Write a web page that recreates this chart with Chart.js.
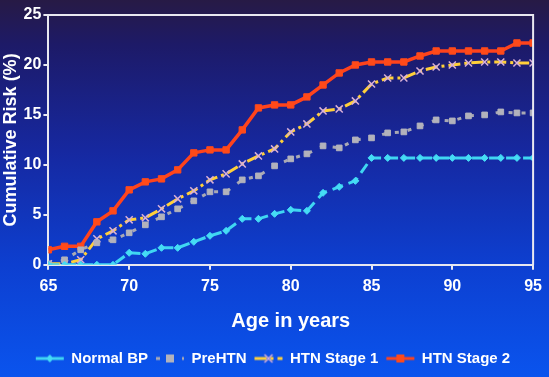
<!DOCTYPE html>
<html lang="en">
<head>
  <meta charset="UTF-8">
  <title>Cumulative Risk by Age</title>
  <script src="https://cdn.jsdelivr.net/npm/chart.js"></script>
  <style>
    html, body {
      margin: 0;
      padding: 0;
    }
    body {
      width: 549px;
      height: 377px;
      overflow: hidden;
      background: linear-gradient(to bottom, #271a45 0%, #1d1a68 12%, #1628a0 40%, #0d3fd0 70%, #0a54ee 100%);
    }
    .wrap {
      position: relative;
      width: 549px;
      height: 377px;
    }
  </style>
</head>
<body>
  <div class="wrap"><canvas id="chart"></canvas></div>

  <script>
    const ages = [65, 66, 67, 68, 69, 70, 71, 72, 73, 74, 75, 76, 77, 78, 79, 80,
                  81, 82, 83, 84, 85, 86, 87, 88, 89, 90, 91, 92, 93, 94, 95];
    const normalBP = [0, 0, 0, 0, 0, 1.2, 1.1, 1.7, 1.7, 2.3, 2.9, 3.4, 4.6, 4.6, 5.1, 5.5,
                      5.4, 7.2, 7.8, 8.4, 10.7, 10.7, 10.7, 10.7, 10.7, 10.7, 10.7, 10.7, 10.7, 10.7, 10.7];
    const preHTN = [0.1, 0.5, 1.5, 2.2, 2.5, 3.2, 4.0, 4.8, 5.6, 6.4, 7.3, 7.3, 8.5, 8.9, 9.9, 10.6,
                    11.1, 11.9, 11.7, 12.5, 12.7, 13.2, 13.3, 13.9, 14.5, 14.4, 14.9, 15.0, 15.3, 15.2, 15.2];
    const htnStage1 = [0.1, 0.1, 0.5, 2.6, 3.4, 4.5, 4.7, 5.6, 6.6, 7.4, 8.5, 9.1, 10.1, 10.9, 11.6, 13.3,
                       14.1, 15.4, 15.6, 16.4, 18.1, 18.7, 18.7, 19.4, 19.8, 20.0, 20.2, 20.3, 20.3, 20.2, 20.2];
    const htnStage2 = [1.5, 1.85, 1.85, 4.3, 5.4, 7.5, 8.3, 8.6, 9.5, 11.2, 11.5, 11.5, 13.5, 15.7, 16.0, 16.0,
                       16.8, 18.0, 19.2, 20.0, 20.3, 20.3, 20.3, 20.9, 21.4, 21.4, 21.4, 21.4, 21.4, 22.2, 22.2];
    const seriesNames = ['Normal BP', 'PreHTN', 'HTN Stage 1', 'HTN Stage 2'];
    const yTicks = [0, 5, 10, 15, 20, 25];

    const FONT = '"Liberation Sans", Arial, sans-serif';

    function toPoints(values) {
      return values.map((v, i) => ({ x: ages[i], y: v }));
    }

    // small legend glyphs: line sample + marker
    function glyph(color, dash, marker, markerColor) {
      const c = document.createElement('canvas');
      c.width = 30;
      c.height = 12;
      const g = c.getContext('2d');
      g.strokeStyle = color;
      g.lineWidth = 3;
      g.setLineDash(dash);
      g.beginPath();
      g.moveTo(1, 6);
      g.lineTo(29, 6);
      g.stroke();
      g.setLineDash([]);
      g.fillStyle = markerColor;
      g.strokeStyle = markerColor;
      if (marker === 'rect') {
        g.fillRect(11, 2, 8, 8);
      } else if (marker === 'rectRot') {
        g.beginPath();
        g.moveTo(15, 2); g.lineTo(19, 6); g.lineTo(15, 10); g.lineTo(11, 6);
        g.closePath();
        g.fill();
      } else if (marker === 'crossRot') {
        g.lineWidth = 1.5;
        g.beginPath();
        g.moveTo(11, 2); g.lineTo(19, 10);
        g.moveTo(19, 2); g.lineTo(11, 10);
        g.stroke();
      }
      return c;
    }

    const styles = [
      { color: '#3fd6f2', dash: [11, 6], marker: 'rectRot', mcolor: '#45dcf5', r: 3.5 },
      { color: '#a9a9b4', dash: [4, 9], marker: 'rect', mcolor: '#b2b2bc', r: 4 },
      { color: '#ffd03a', dash: [12, 4, 3, 4], marker: 'crossRot', mcolor: '#d9b0d8', r: 5 },
      { color: '#ff431c', dash: [], marker: 'rect', mcolor: '#ff4a1a', r: 4.5 }
    ];
    const glyphs = styles.map(s => glyph(s.color, s.dash, s.marker, s.mcolor));

    const allSeries = [normalBP, preHTN, htnStage1, htnStage2];
    const datasets = allSeries.map((vals, i) => ({
      label: seriesNames[i],
      data: toPoints(vals),
      borderColor: styles[i].color,
      borderWidth: i === 3 ? 3.5 : 3,
      borderDash: styles[i].dash,
      pointStyle: styles[i].marker,
      pointRadius: styles[i].r,
      pointBackgroundColor: styles[i].mcolor,
      pointBorderColor: styles[i].mcolor,
      pointBorderWidth: i === 2 ? 1.5 : 1,
      fill: false,
      tension: 0
    }));

    const framePlugin = {
      id: 'frame',
      afterDatasetsDraw(chart) {
        const { ctx, chartArea } = chart;
        ctx.save();
        ctx.strokeStyle = '#e8e8f0';
        ctx.lineWidth = 2;
        ctx.beginPath();
        ctx.moveTo(chartArea.left, chartArea.top);
        ctx.lineTo(chartArea.right, chartArea.top);
        ctx.lineTo(chartArea.right, chartArea.bottom);
        ctx.stroke();
        ctx.restore();
      }
    };

    new Chart(document.getElementById('chart'), {
      type: 'line',
      data: { datasets },
      options: {
        responsive: true,
        maintainAspectRatio: false,
        animation: false,
        layout: { padding: { top: 15, right: 3, left: 0, bottom: 1 } },
        scales: {
          x: {
            type: 'linear',
            min: 65,
            max: 95,
            ticks: { stepSize: 5, color: '#ffffff', font: { family: FONT, size: 16, weight: 'bold' }, padding: 7 },
            grid: { drawOnChartArea: false, drawTicks: true, tickLength: 5, color: '#e8e8f0', lineWidth: 2 },
            border: { color: '#e8e8f0', width: 2 },
            title: {
              display: true,
              text: 'Age in years',
              color: '#ffffff',
              font: { family: FONT, size: 20, weight: 'bold' },
              padding: { top: 6, bottom: 10 }
            }
          },
          y: {
            min: 0,
            max: 25,
            afterBuildTicks: axis => { axis.ticks = yTicks.map(v => ({ value: v })); },
            ticks: { color: '#ffffff', font: { family: FONT, size: 16, weight: 'bold' }, padding: 2 },
            grid: { drawOnChartArea: false, drawTicks: true, tickLength: 5, color: '#e8e8f0', lineWidth: 2 },
            border: { color: '#e8e8f0', width: 2 },
            title: {
              display: true,
              text: 'Cumulative Risk (%)',
              color: '#ffffff',
              font: { family: FONT, size: 18, weight: 'bold' },
              padding: { top: 0, bottom: 0 }
            }
          }
        },
        plugins: {
          tooltip: { enabled: false },
          legend: {
            position: 'bottom',
            labels: {
              color: '#ffffff',
              font: { family: FONT, size: 15, weight: 'bold' },
              usePointStyle: true,
              pointStyleWidth: 28,
              padding: 8,
              generateLabels: chart =>
                Chart.defaults.plugins.legend.labels.generateLabels(chart).map((l, i) => ({
                  ...l,
                  pointStyle: glyphs[i],
                  lineDash: []
                }))
            }
          }
        }
      },
      plugins: [framePlugin]
    });
  </script>
</body>
</html>
